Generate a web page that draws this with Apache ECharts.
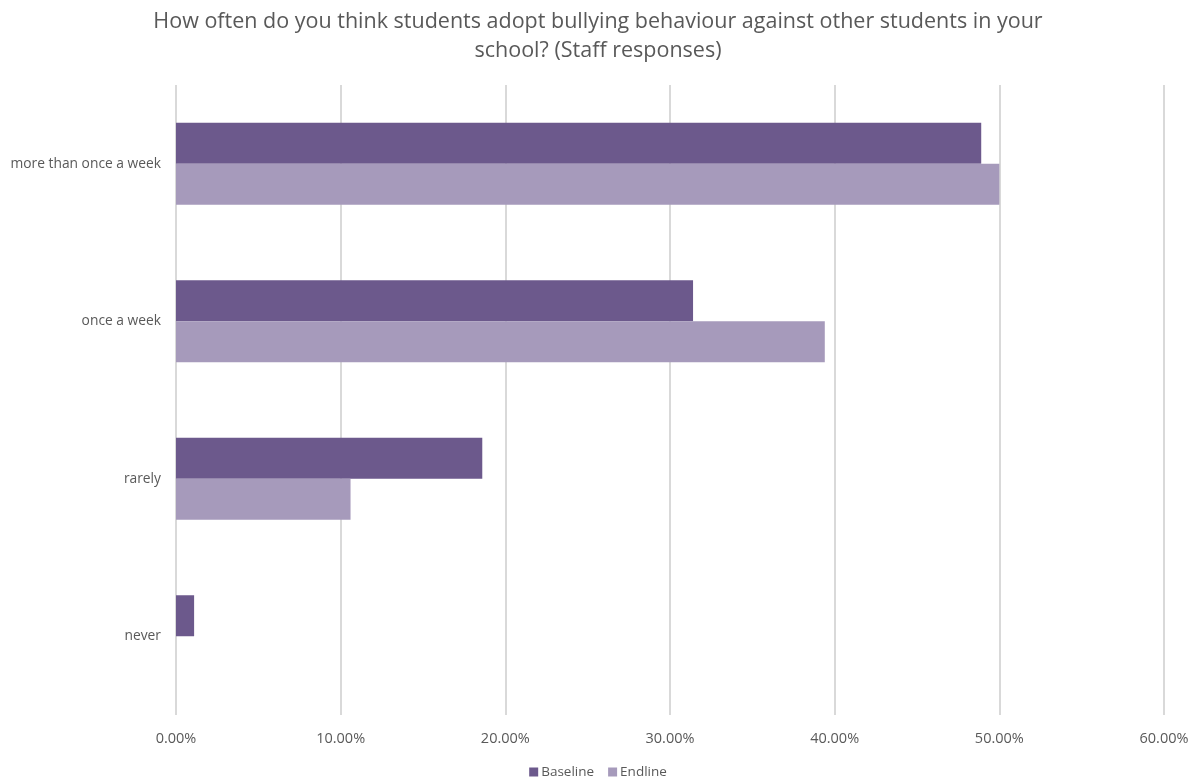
<!DOCTYPE html>
<html>
<head>
<meta charset="utf-8">
<script src="https://cdn.jsdelivr.net/npm/echarts@6/dist/echarts.min.js"></script>
<style>
  html, body { margin: 0; padding: 0; background: #fff; }
  #chart { width: 1196px; height: 784px; }
</style>
</head>
<body>
<div id="chart"></div>
<script>
// Response categories, top to bottom
const categories = ['more than once a week', 'once a week', 'rarely', 'never'];
// Share of staff responses (%)
const baseline = [48.9, 31.4, 18.6, 1.1];
const endline = [50.0, 39.4, 10.6, 0];
const xTicks = [0, 10, 20, 30, 40, 50, 60];

const textColor = '#595959';
const font = '"Open Sans", "Liberation Sans", sans-serif';

const chart = echarts.init(document.getElementById('chart'));
chart.setOption({
  animation: false,
  backgroundColor: '#ffffff',
  title: {
    text: 'How often do you think students adopt bullying behaviour against other students in your\nschool? (Staff responses)',
    left: 'center',
    top: 2,
    padding: [5, 0, 5, 14],
    textStyle: { color: textColor, fontFamily: font, fontSize: 21.5, fontWeight: 'normal', lineHeight: 29, align: 'center' }
  },
  legend: {
    bottom: 0,
    left: 'center',
    itemWidth: 9,
    itemHeight: 9,
    itemGap: 14,
    icon: 'rect',
    textStyle: { color: textColor, fontFamily: font, fontSize: 13.5, padding: [0, 0, 0, -2] },
    data: ['Baseline', 'Endline']
  },
  grid: { left: 176, right: 32, top: 85, bottom: 69, containLabel: false },
  xAxis: {
    type: 'value',
    min: xTicks[0],
    max: xTicks[xTicks.length - 1],
    interval: 10,
    axisLine: { show: false },
    axisTick: { show: false },
    splitLine: { lineStyle: { color: '#d9d9d9', width: 2 } },
    axisLabel: {
      color: textColor, fontFamily: font, fontSize: 14.5, margin: 16,
      formatter: v => v.toFixed(2) + '%'
    }
  },
  yAxis: {
    type: 'category',
    data: categories,
    inverse: true,
    axisLine: { show: false },
    axisTick: { show: false },
    axisLabel: { color: textColor, fontFamily: font, fontSize: 13.8, margin: 15 }
  },
  series: [
    {
      name: 'Baseline', type: 'bar', data: baseline,
      barWidth: 41, barGap: '0%',
      itemStyle: { color: '#6c598c' }
    },
    {
      name: 'Endline', type: 'bar', data: endline,
      barWidth: 41, barGap: '0%',
      itemStyle: { color: '#a69abb' }
    }
  ]
});
</script>
</body>
</html>
